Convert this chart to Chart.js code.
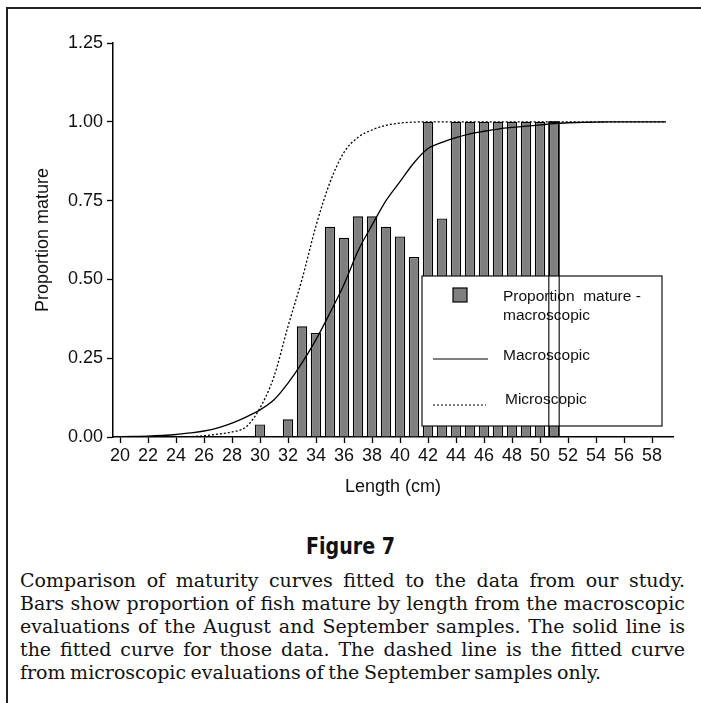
<!DOCTYPE html>
<html>
<head>
<meta charset="utf-8">
<script src="https://cdn.jsdelivr.net/npm/chart.js@4.4.1/dist/chart.umd.min.js"></script>
<style>
  html, body { margin: 0; padding: 0; background: #fff; }
  body { width: 701px; height: 703px; position: relative; overflow: hidden; }
  #frame { position: absolute; left: 6px; top: 7px; width: 700px; height: 700px;
           border-top: 2px solid #222; border-left: 2px solid #222; }
  #wrap { position: absolute; left: 0; top: 0; width: 701px; height: 500px; }
  #fig { position: absolute; left: 0; width: 701px; top: 533px; text-align: center;
         font-family: 'Liberation Sans Narrow', 'DejaVu Sans Condensed', sans-serif;
         font-weight: bold; font-size: 23px; color: #111; transform: scaleX(0.92); }
  #caption { position: absolute; left: 20px; width: 665px; top: 569px;
             font-family: 'DejaVu Serif', serif; font-size: 19px; line-height: 23px;
             word-spacing: -1.5px; color: #111; }
  #caption div { text-align: justify; text-align-last: justify; white-space: nowrap; }
  #caption div.last { text-align-last: left; }
</style>
</head>
<body>
<div id="frame"></div>
<div id="wrap"><canvas id="chart" width="701" height="500"></canvas></div>
<div id="fig">Figure 7</div>
<div id="caption">
  <div>Comparison of maturity curves fitted to the data from our study.</div>
  <div>Bars show proportion of fish mature by length from the macroscopic</div>
  <div>evaluations of the August and September samples. The solid line is</div>
  <div>the fitted curve for those data. The dashed line is the fitted curve</div>
  <div class="last">from microscopic evaluations of the September samples only.</div>
</div>
<script>
"use strict";
// lengths 20..59 cm
const lengths = [20, 21, 22, 23, 24, 25, 26, 27, 28, 29,
                 30, 31, 32, 33, 34, 35, 36, 37, 38, 39,
                 40, 41, 42, 43, 44, 45, 46, 47, 48, 49,
                 50, 51, 52, 53, 54, 55, 56, 57, 58, 59];
// observed proportion mature (macroscopic)
const propMature = [null, null, null, null, null, null, null, null, null, null,
                    0.040, null, 0.056, 0.351, 0.330, 0.667, 0.632, 0.700, 0.700, 0.667,
                    0.636, 0.571, 1.000, 0.693, 1.000, 1.000, 1.000, 1.000, 1.000, 1.000,
                    1.000, 1.000, null, null, null, null, null, null, null, null];
// fitted curve, macroscopic (solid)
const macroCurve = [0.001, 0.002, 0.003, 0.005, 0.008, 0.013, 0.019, 0.029, 0.044, 0.063,
                    0.086, 0.118, 0.171, 0.235, 0.309, 0.394, 0.484, 0.590, 0.672, 0.750,
                    0.810, 0.870, 0.915, 0.935, 0.950, 0.962, 0.970, 0.977, 0.982, 0.986,
                    0.990, 0.994, 0.997, 0.998, 0.999, 1.000, 1.000, 1.000, 1.000, 1.000];
// fitted curve, microscopic (dashed)
const microCurve = [0.000, 0.000, 0.000, 0.000, 0.000, 0.001, 0.004, 0.009, 0.016, 0.032,
                    0.092, 0.192, 0.351, 0.500, 0.670, 0.808, 0.903, 0.951, 0.974, 0.989,
                    0.996, 0.999, 1.000, 1.000, 1.000, 1.000, 1.000, 1.000, 1.000, 1.000,
                    1.000, 1.000, 1.000, 1.000, 1.000, 1.000, 1.000, 1.000, 1.000, 1.000];
const yTicks = [0, 0.25, 0.5, 0.75, 1.0, 1.25];

const legendLabels = [['Proportion  mature -', 'macroscopic'], ['Macroscopic'], ['Microscopic']];

const axisFont = { family: '"Liberation Sans", Arial, sans-serif', size: 18 };

// legend box drawn inside the plot, then the last bar outline on top (as in the original)
const boxLegend = {
    id: 'boxLegend',
    afterDatasetsDraw(chart, args, opts) {
        const ctx = chart.ctx;
        ctx.save();
        ctx.fillStyle = '#fff';
        ctx.strokeStyle = '#111';
        ctx.lineWidth = 1.2;
        ctx.fillRect(opts.x, opts.y, opts.w, opts.h);
        ctx.strokeRect(opts.x, opts.y, opts.w, opts.h);

        // swatch
        ctx.fillStyle = '#7f7f7f';
        ctx.fillRect(opts.x + 31, opts.y + 12, 14, 14);
        ctx.strokeStyle = '#000';
        ctx.lineWidth = 1.2;
        ctx.strokeRect(opts.x + 31, opts.y + 12, 14, 14);
        // solid sample
        ctx.beginPath();
        ctx.moveTo(opts.x + 11, opts.y + 83);
        ctx.lineTo(opts.x + 66, opts.y + 83);
        ctx.lineWidth = 1.2;
        ctx.stroke();
        // dotted sample
        ctx.setLineDash([2, 2]);
        ctx.beginPath();
        ctx.moveTo(opts.x + 11, opts.y + 129);
        ctx.lineTo(opts.x + 64, opts.y + 129);
        ctx.stroke();
        ctx.setLineDash([]);

        ctx.fillStyle = '#111';
        ctx.font = '15.5px "Liberation Sans", Arial, sans-serif';
        ctx.textBaseline = 'middle';
        ctx.fillText(legendLabels[0][0], opts.x + 81, opts.y + 21);
        ctx.fillText(legendLabels[0][1], opts.x + 81, opts.y + 40);
        ctx.fillText(legendLabels[1][0], opts.x + 81, opts.y + 80);
        ctx.fillText(legendLabels[2][0], opts.x + 83, opts.y + 124);

        // outline of the last bar stays visible over the box
        const meta = chart.getDatasetMeta(0);
        const last = meta.data[31];
        if (last) {
            ctx.strokeStyle = '#000';
            ctx.lineWidth = 1.1;
            ctx.strokeRect(last.x - last.width / 2, last.y, last.width, last.base - last.y);
        }
        ctx.restore();
    }
};

const ctx = document.getElementById('chart').getContext('2d');
const myChart = new Chart(ctx, {
    data: {
        labels: lengths,
        datasets: [{
            type: 'bar',
            label: 'Proportion mature - macroscopic',
            data: propMature,
            backgroundColor: '#7f7f7f',
            borderColor: '#000',
            borderWidth: 1.3,
            barPercentage: 0.74,
            categoryPercentage: 1.0,
            order: 2
        }, {
            type: 'line',
            label: 'Macroscopic',
            data: macroCurve,
            borderColor: '#000',
            borderWidth: 1.3,
            pointRadius: 0,
            cubicInterpolationMode: 'monotone',
            fill: false,
            order: 1
        }, {
            type: 'line',
            label: 'Microscopic',
            data: microCurve,
            borderColor: '#000',
            borderWidth: 1.3,
            borderDash: [2, 2],
            pointRadius: 0,
            cubicInterpolationMode: 'monotone',
            fill: false,
            order: 0
        }]
    },
    options: {
        responsive: false,
        animation: false,
        layout: { padding: { top: 43, right: 28, left: 0, bottom: 0 } },
        plugins: {
            legend: { display: false },
            tooltip: { enabled: false },
            boxLegend: { x: 422, y: 276, w: 240, h: 150 }
        },
        scales: {
            x: {
                type: 'category',
                offset: true,
                grid: {
                    offset: false,
                    drawOnChartArea: false,
                    drawTicks: true,
                    tickLength: 6,
                    tickWidth: 1.3,
                    tickColor: (c) => (c.index % 2 === 0 ? '#000' : 'rgba(0,0,0,0)')
                },
                border: { color: '#000', width: 1.5 },
                ticks: {
                    autoSkip: false,
                    maxRotation: 0,
                    padding: 2,
                    color: '#111',
                    font: axisFont,
                    callback: (v, i) => (lengths[i] % 2 === 0 ? String(lengths[i]) : '')
                },
                title: {
                    display: true,
                    text: 'Length (cm)',
                    color: '#111',
                    font: axisFont,
                    padding: { top: 0, bottom: 2 }
                },
                afterFit: (s) => { s.height = 63; }
            },
            y: {
                min: 0,
                max: 1.25,
                afterBuildTicks: (s) => { s.ticks = yTicks.map(v => ({ value: v })); },
                grid: {
                    drawOnChartArea: false,
                    drawTicks: true,
                    tickLength: 6,
                    tickWidth: 1.3,
                    tickColor: '#000'
                },
                border: { color: '#000', width: 1.5 },
                ticks: {
                    padding: 4,
                    color: '#111',
                    font: axisFont,
                    callback: (v) => Number(v).toFixed(2)
                },
                title: {
                    display: true,
                    text: 'Proportion mature',
                    color: '#111',
                    font: axisFont,
                    padding: { top: 32, bottom: 0 }
                },
                afterFit: (s) => { s.width = 113; }
            }
        }
    },
    plugins: [boxLegend]
});
</script>
</body>
</html>
